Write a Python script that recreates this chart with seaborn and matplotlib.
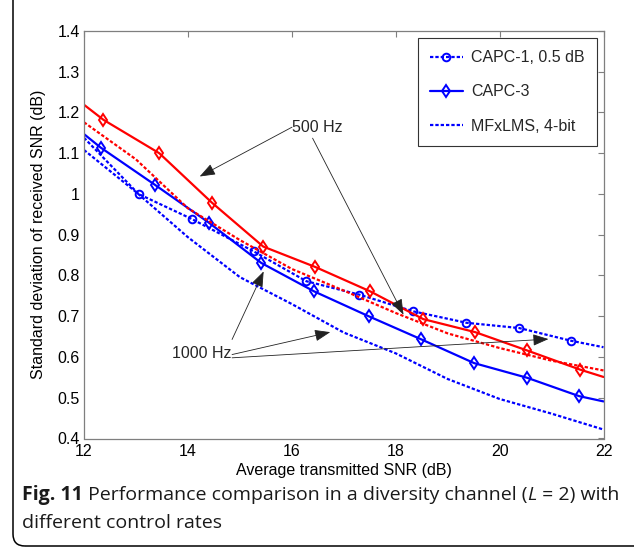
import matplotlib
matplotlib.use("Agg")
import matplotlib.pyplot as plt
import seaborn as sns
from matplotlib.patches import FancyBboxPatch
from matplotlib.transforms import IdentityTransform
import matplotlib.ticker as mticker

# ---------------- data ----------------
# 1000 Hz control rate (blue)
capc1_1000_x = [12.0, 13.05, 14.07, 15.27, 16.28, 17.30, 18.34, 19.36, 20.38, 21.37, 22.0]
capc1_1000_y = [1.138, 1.000, 0.939, 0.859, 0.786, 0.753, 0.712, 0.684, 0.671, 0.640, 0.624]

capc3_1000_x = [12.0, 12.32, 13.36, 14.40, 15.41, 16.43, 17.48, 18.48, 19.51, 20.53, 21.53, 22.0]
capc3_1000_y = [1.147, 1.114, 1.023, 0.930, 0.831, 0.761, 0.700, 0.644, 0.585, 0.549, 0.504, 0.491]

mfx_1000_x = [12, 13, 14, 15, 16, 17, 18, 19, 20, 21, 22]
mfx_1000_y = [1.108, 1.005, 0.894, 0.796, 0.730, 0.660, 0.609, 0.546, 0.497, 0.461, 0.422]

# 500 Hz control rate (red)
capc3_500_x = [12.0, 12.375, 13.45, 14.46, 15.45, 16.45, 17.51, 18.53, 19.53, 20.53, 21.55, 22.0]
capc3_500_y = [1.219, 1.182, 1.100, 0.979, 0.871, 0.821, 0.761, 0.693, 0.661, 0.616, 0.569, 0.551]

mfx_500_x = [12, 13, 14, 15, 16, 17, 18, 19, 20, 21, 22]
mfx_500_y = [1.176, 1.085, 0.965, 0.887, 0.816, 0.763, 0.708, 0.658, 0.622, 0.591, 0.567]

legend_labels = ["CAPC-1, 0.5 dB", "CAPC-3", "MFxLMS, 4-bit"]
x_ticks = [12, 14, 16, 18, 20, 22]
y_ticks = [0.4, 0.5, 0.6, 0.7, 0.8, 0.9, 1.0, 1.1, 1.2, 1.3, 1.4]

# ---------------- style ----------------
sns.set_theme(style="white")
plt.rcParams['font.family'] = ['Liberation Sans', 'DejaVu Sans']

BLUE = "#0000ff"
RED = "#ff0000"
DOT = (0, (1.5, 0.9))
LW = 1.6
FS = 11.5

fig = plt.figure(figsize=(6.34, 5.5), dpi=100)
ax = fig.add_axes([84 / 634, 1 - 438.5 / 550, 519.5 / 634, 407.5 / 550])


def draw(x, y, color, ls, marker=None, label="_nolegend_"):
    kw = {}
    if marker is not None:
        kw = dict(marker=marker, markevery=list(range(1, len(x) - 1)),
                  markersize=5.5 if marker == "o" else 6,
                  markerfacecolor="none", markeredgecolor=color,
                  markeredgewidth=1.4)
    sns.lineplot(x=x, y=y, ax=ax, color=color, linestyle=ls, linewidth=LW,
                 sort=False, estimator=None, label=label, legend=False, **kw)
    return ax.lines[-1]


h1 = draw(capc1_1000_x, capc1_1000_y, BLUE, DOT, marker="o", label=legend_labels[0])
h2 = draw(capc3_1000_x, capc3_1000_y, BLUE, "-", marker="d", label=legend_labels[1])
h3 = draw(mfx_1000_x, mfx_1000_y, BLUE, DOT, label=legend_labels[2])
draw(capc3_500_x, capc3_500_y, RED, "-", marker="d")
draw(mfx_500_x, mfx_500_y, RED, DOT)

ax.set_xlim(12, 22)
ax.set_ylim(0.4, 1.4)
ax.set_xticks(x_ticks)
ax.set_yticks(y_ticks)
ax.yaxis.set_major_formatter(mticker.FormatStrFormatter('%g'))
ax.tick_params(direction="in", length=4.5, width=0.8, color="#7f7f7f",
               top=True, right=True, labelsize=FS, labelcolor="black")
ax.tick_params(axis="x", pad=4)
ax.tick_params(axis="y", pad=3)
for s in ax.spines.values():
    s.set_color("#7f7f7f")
    s.set_linewidth(0.9)

ax.set_xlabel("Average transmitted SNR (dB)", fontsize=FS, color="black")
ax.set_ylabel("Standard deviation of received SNR (dB)", fontsize=FS, color="black")
ax.xaxis.set_label_coords(0.5, -0.06)
ax.yaxis.set_label_coords(-0.074, 0.5)

leg = ax.legend(handles=[h1, h2, h3], labels=legend_labels, loc="upper right",
                bbox_to_anchor=(0.987, 0.982), borderaxespad=0, fontsize=FS,
                fancybox=False, framealpha=1, edgecolor="#333333",
                handlelength=2.1, handletextpad=0.5, labelspacing=1.2,
                borderpad=0.75)
leg.get_frame().set_linewidth(0.8)

# ---------------- annotations ----------------
arrow = dict(arrowstyle="-|>,head_length=0.8,head_width=0.3", color="#222222",
             lw=0.6, shrinkA=0, shrinkB=0)
ax.text(16.485, 1.164, "500 Hz", fontsize=FS, ha="center", va="center")
ax.annotate("", xy=(14.227, 1.043), xytext=(16.004, 1.164), arrowprops=arrow)
ax.annotate("", xy=(18.15, 0.704), xytext=(16.40, 1.137), arrowprops=arrow)

ax.text(14.26, 0.608, "1000 Hz", fontsize=FS, ha="center", va="center")
ax.annotate("", xy=(15.458, 0.810), xytext=(14.85, 0.643), arrowprops=arrow)
ax.annotate("", xy=(16.74, 0.661), xytext=(14.85, 0.606), arrowprops=arrow)
ax.annotate("", xy=(20.94, 0.644), xytext=(14.85, 0.598), arrowprops=arrow)

# ---------------- caption & frame ----------------
frame = FancyBboxPatch((13, 4), 700, 600,
                       boxstyle="round,pad=0,rounding_size=12",
                       transform=IdentityTransform(), fill=False,
                       edgecolor="black", linewidth=1.1, clip_on=False)
fig.add_artist(frame)

CAP_FS = 14
cap_font = ['Open Sans', 'DejaVu Sans']
fig.canvas.draw()
renderer = fig.canvas.get_renderer()


def piece(x_px, y_px, s, **kw):
    t = fig.text(x_px / 634, y_px / 550, s, fontsize=CAP_FS, family=cap_font,
                 color="#1a1a1a", va="baseline", ha="left", **kw)
    bb = t.get_window_extent(renderer=renderer)
    return x_px + bb.width


y1 = 550 - 500
x = 22
x = piece(x, y1, "Fig. 11", weight="bold")
x = piece(x, y1, " Performance comparison in a diversity channel (")
x = piece(x, y1, "L", style="italic")
x = piece(x, y1, " = 2) with")
piece(22, 550 - 528, "different control rates")

fig.savefig("out.png", dpi=100)
